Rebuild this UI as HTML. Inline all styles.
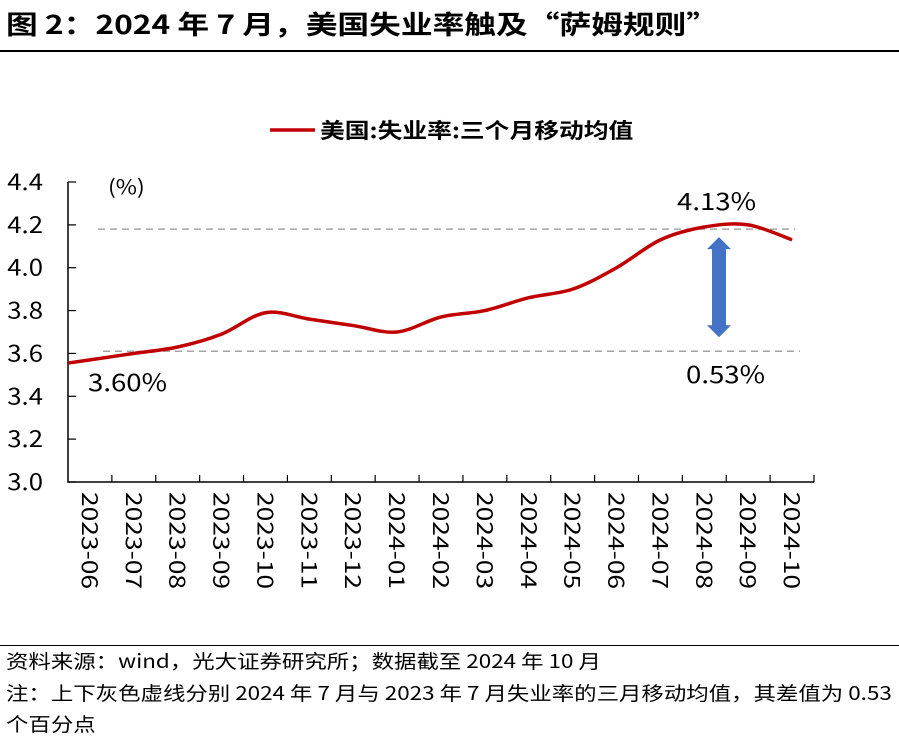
<!DOCTYPE html>
<html><head><meta charset="utf-8"><style>
body{margin:0;width:899px;height:746px;background:#fff;font-family:"Noto Sans CJK SC","Liberation Sans",sans-serif;overflow:hidden;position:relative}
.t{position:absolute;white-space:nowrap;color:#000;line-height:1.2;transform-origin:0 0}
svg text{font-family:"Noto Sans CJK SC","Liberation Sans",sans-serif}
</style></head><body>
<div class="t" style="left:6px;top:8px;font-size:26px;font-weight:bold;transform:scaleX(1.22)">图 2：2024 年 7 月，美国失业率触及“萨姆规则”</div>
<div style="position:absolute;left:0;top:50px;width:899px;height:2px;background:#000"></div>
<svg id="c" width="899" height="640" style="position:absolute;left:0;top:0"></svg>
<div style="position:absolute;left:0;top:645px;width:899px;height:1px;background:#000"></div>
<div class="t" style="left:6px;top:650px;font-size:19px;transform:scaleX(1.18)">资料来源：wind，光大证券研究所；数据截至 2024 年 10 月</div>
<div class="t" style="left:6px;top:682px;font-size:19px;transform:scaleX(1.18)">注：上下灰色虚线分别 2024 年 7 月与 2023 年 7 月失业率的三月移动均值，其差值为 0.53</div>
<div class="t" style="left:6px;top:713px;font-size:19px;transform:scaleX(1.18)">个百分点</div>
<script>
const categories=["2023-06","2023-07","2023-08","2023-09","2023-10","2023-11","2023-12","2024-01","2024-02","2024-03","2024-04","2024-05","2024-06","2024-07","2024-08","2024-09","2024-10"];
const values=[3.57,3.60,3.63,3.69,3.79,3.76,3.73,3.70,3.77,3.80,3.86,3.90,4.00,4.13,4.19,4.20,4.13];
const yTicks=["3.0","3.2","3.4","3.6","3.8","4.0","4.2","4.4"];
const refHigh=4.18, refLow=3.61;
const NS="http://www.w3.org/2000/svg";
const svg=document.getElementById('c');
const x0=68,x1=814,yTop=182,yBot=482,yMin=3.0,yMax=4.4;
const bw=(x1-x0)/categories.length;
const xs=i=>x0+bw*(i+0.5);
const ys=v=>yBot-(v-yMin)/(yMax-yMin)*(yBot-yTop);
function el(t,a){const e=document.createElementNS(NS,t);for(const k in a)e.setAttribute(k,a[k]);svg.appendChild(e);return e;}
let e=el('path',{d:`M${x0} ${yTop}V${yBot}H${x1}`,stroke:'#000','stroke-width':1.5,fill:'none'});


yTicks.forEach(t=>{const y=ys(+t);
 let k=el('line',{x1:x0,x2:x0+8,y1:y,y2:y,stroke:'#000','stroke-width':1.2});
 
 
 let l=el('text',{x:0,y:0,'text-anchor':'end','font-size':23,transform:`translate(43,${y+8}) scale(1.12,1)`});l.textContent=t;
 
 
});
categories.forEach((c,i)=>{const xb=x0+bw*(i+1);
 let k=el('line',{x1:xb,x2:xb,y1:yBot,y2:yBot-7,stroke:'#000','stroke-width':1.2});
 
 
 const xc=xs(i);
 let l=el('text',{x:0,y:0,'font-size':22,transform:`translate(${xc-8},${yBot+10}) rotate(90) scale(1.2,1)`});l.textContent=c;
 
 
});
[[refHigh,98,795,'upper-ref-line'],[refLow,103,800,'lower-ref-line']].forEach(r=>{
 let d=el('line',{x1:r[1],x2:r[2],y1:ys(r[0]),y2:ys(r[0]),stroke:'#a6a6a6','stroke-width':1.5,'stroke-dasharray':'7 5'});
 
 
});
const pts=values.map((v,i)=>[xs(i),ys(v)]);
const s0=(pts[1][1]-pts[0][1])/(pts[1][0]-pts[0][0]);
let d=`M${x0} ${pts[0][1]-s0*(pts[0][0]-x0)}L${pts[0][0]} ${pts[0][1]}`;
for(let i=0;i<pts.length-1;i++){const p0=pts[i-1]||pts[i],p1=pts[i],p2=pts[i+1],p3=pts[i+2]||p2;
 d+=`C${p1[0]+(p2[0]-p0[0])/6} ${p1[1]+(p2[1]-p0[1])/6} ${p2[0]-(p3[0]-p1[0])/6} ${p2[1]-(p3[1]-p1[1])/6} ${p2[0]} ${p2[1]}`;}
let ln=el('path',{d,stroke:'#c00000','stroke-width':3.5,fill:'none'});


const ax=719,at=ys(refHigh)+8,ab=ys(refLow)-14;
let ar=el('path',{d:`M${ax} ${at}L${ax+12} ${at+12}H${ax+7}V${ab-12}H${ax+12}L${ax} ${ab}L${ax-12} ${ab-12}H${ax-7}V${at+12}H${ax-12}Z`,fill:'#4472c4'});


[[88,391,'3.60%','label-low'],[677,210,'4.13%','label-high'],[686,383,'0.53%','label-diff'],[108,194,'(%)','y-unit']].forEach(a=>{
 let t=el('text',{x:0,y:0,'font-size':a[3]=='y-unit'?20:24,transform:`translate(${a[0]},${a[1]}) scale(1.15,1)`});t.textContent=a[2];
 
 
});
let lg=el('line',{x1:270,x2:315,y1:130,y2:130,stroke:'#c00000','stroke-width':3.5});


let lt=el('text',{x:0,y:0,'font-size':21,'font-weight':'bold',transform:'translate(320,138) scale(1.18,1)'});lt.textContent='美国:失业率:三个月移动均值';


</script>
</body></html>
